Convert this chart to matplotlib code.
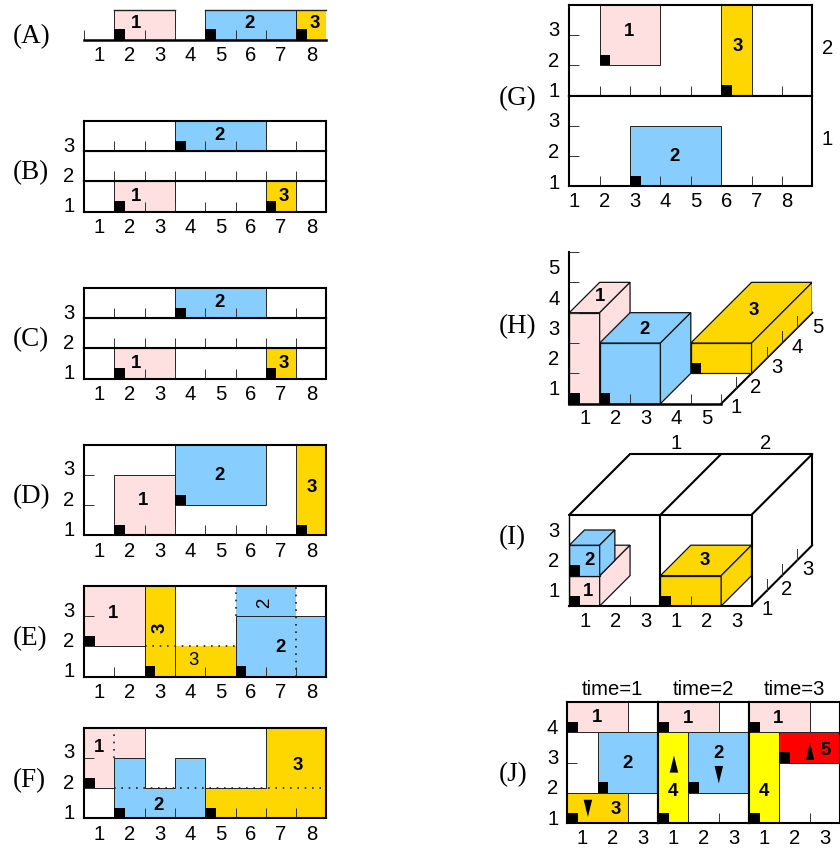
import matplotlib
matplotlib.use("Agg")
import matplotlib.pyplot as plt
from matplotlib.patches import Rectangle, Polygon

W, H = 840, 848
DPI = 100
CELL_LABELS_8 = ["1", "2", "3", "4", "5", "6", "7", "8"]
LAB = {1: "#FFE0E0", 2: "#87CEFF", 3: "#FFD700", 4: "#FFFF00", 5: "#FF0000"}

# --- box layouts: (item, x, width, y, height) in grid cells
panel_a = [(1, 1, 2, 0, 1), (2, 4, 3, 0, 1), (3, 7, 1, 0, 1)]
panel_a_text = [(1, 1.71, .53), (2, 5.47, .53), (3, 7.62, .53)]
rows_bc = {0: [(1, 1, 2, 0, 1), (3, 6, 1, 0, 1)], 1: [], 2: [(2, 3, 3, 0, 1)]}
rows_bc_text = {0: [(1, 1.71, .5), (3, 6.6, .5)], 1: [], 2: [(2, 4.48, .52)]}
panel_d = [(1, 1, 2, 0, 2), (2, 3, 3, 1, 2), (3, 7, 1, 0, 3)]
panel_d_text = [(1, 1.96, 1.14), (2, 4.48, 1.99), (3, 7.53, 1.59)]

panel_e_shapes = [
    (1, [(0, 1), (2, 1), (2, 3), (0, 3)]),
    (2, [(5, 0), (8, 0), (8, 2), (5, 2)]),
]
panel_e_open = [(2, 5, 2, 2, 1), (3, 2, 1, 0, 3), (3, 3, 2, 0, 1)]
panel_e_solid = [((2, 2), (0, 3)), ((3, 3), (0, 3)), ((5, 5), (0, 1))]
panel_e_dotted = [((2, 5), (1, 1)), ((7, 7), (0, 3)), ((5, 5), (2, 3))]
panel_e_marks = [(0, 1), (2, 0), (5, 0)]
panel_e_text = [("1", .945, 2.09, 0, "bold"), ("3", 2.5, 1.63, 90, "bold"), ("3", 3.6, .53, 0, "normal"),
                ("2", 5.95, 2.44, 90, "normal"), ("2", 6.48, .97, 0, "bold")]

panel_f_shapes = [
    (1, [(0, 1), (1, 1), (1, 2), (2, 2), (2, 3), (0, 3)]),
    (2, [(1, 0), (4, 0), (4, 2), (3, 2), (3, 1), (2, 1), (2, 2), (1, 2)]),
    (3, [(4, 0), (8, 0), (8, 3), (6, 3), (6, 1), (4, 1)]),
]
panel_f_dotted = [((1, 8), (1, 1)), ((1, 1), (2, 3))]
panel_f_marks = [(0, 1), (1, 0), (4, 0)]
panel_f_text = [("1", .51, 2.36), ("2", 2.47, .44), ("3", 7.04, 1.75)]

panel_g_upper = [(1, 1, 2, 1, 2), (3, 5, 1, 0, 3)]
panel_g_lower = [(2, 2, 3, 0, 2)]
panel_g_upper_text = [(1, 1.95, 2.13), (3, 5.54, 1.62)]
panel_g_lower_text = [(2, 3.48, 1.0)]

# --- oblique panels: (item, x0, x1, y0, y1, d0, d1)
panel_h = [(3, 3, 5, 0, 1, 2, 6), (1, 0, 1, 0, 3, 0, 2), (2, 1, 3, 0, 2, 0, 2)]
panel_h_text = [(1, 1.01, 3.53), (2, 2.49, 2.46), (3, 6.07, 3.07)]
panel_h_marks = [(0, 0), (1, 0), (4, 1)]
panel_h_depth_labels = [("1", 5.48, -.12), ("2", 6.15, .53), ("3", 6.84, 1.2), ("4", 7.5, 1.86), ("5", 8.18, 2.52)]
panel_i = [(1, 0, 1, 0, 1, 0, 2), (2, 0, 1, 1, 2, 0, 1), (3, 3, 5, 0, 1, 0, 2)]
panel_i_text = [(1, .63, .49), (2, .68, 1.49), (3, 4.47, 1.49)]
panel_i_marks = [(0, 0), (0, 1), (3, 0)]
panel_i_depth_labels = [("1", 6.5, -.11), ("2", 7.16, .55), ("3", 7.85, 1.21)]
panel_i_top_labels = [("1", 3.52, 5.34), ("2", 6.45, 5.34)]

# --- time panels
time_titles = ["time=1", "time=2", "time=3"]
time_boxes = [
    [(1, 0, 2, 3, 1), (2, 1, 2, 1, 2), (3, 0, 2, 0, 1)],
    [(1, 0, 2, 3, 1), (4, 0, 1, 0, 3), (2, 1, 2, 1, 2)],
    [(1, 0, 2, 3, 1), (4, 0, 1, 0, 3), (5, 1, 2, 2, 1)],
]
time_text = [
    [(1, .97, 3.5), (2, 1.98, 1.96), (3, 1.59, .46)],
    [(1, .97, 3.47), (4, .48, 1.03), (2, 1.99, 2.3)],
    [(1, .95, 3.47), (4, .49, 1.03), (5, 2.52, 2.41)],
]
time_arrows = [
    [(.68, .77, .2)],
    [(.52, 1.67, 2.24), (2.0, 1.89, 1.31)],
    [(2.01, 2.09, 2.66)],
]

SANS = "Liberation Sans"
SERIF = "Liberation Serif"
plt.rcParams["font.family"] = SANS
FS_TICK = 14.6
FS_BOX = 13.4
LW_FRAME = 1.5
LW_EDGE = 0.7
EDGE = "#222222"
TICK_CLR = "#333333"
TICK_LEN = 7.2
MW, MH = 0.35, 0.345

fig = plt.figure(figsize=(W / DPI, H / DPI), dpi=DPI)
fig.patch.set_facecolor("white")


def ax_px(x0, ytop, x1, ybot):
    return fig.add_axes([x0 / W, 1 - ybot / H, (x1 - x0) / W, (ybot - ytop) / H])


def style(ax, xlim, ylim, xlabels=None, xlabel_pos=None, ylabels=None, ylabel_pos=None,
          xticks=(), yticks=(), lw=LW_FRAME, ypad=7.0, xpad=4.5, below=False):
    ax.set_xlim(*xlim)
    ax.set_ylim(*ylim)
    ax.set_xticks(list(xticks), labels=[])
    ax.set_yticks(list(yticks), labels=[])
    ax.set_xticks(xlabel_pos if xlabels else [], labels=xlabels if xlabels else [], minor=True)
    ax.set_yticks(ylabel_pos if ylabels else [], labels=ylabels if ylabels else [], minor=True)
    ax.tick_params(which="major", direction="in", length=TICK_LEN, width=0.7, color=TICK_CLR)
    ax.tick_params(axis="x", which="minor", length=0, pad=xpad, labelsize=FS_TICK)
    ax.tick_params(axis="y", which="minor", length=0, pad=ypad, labelsize=FS_TICK)
    ax.set_axisbelow(below)
    for s in ax.spines.values():
        s.set_linewidth(lw)
        s.set_zorder(5)


def rects(ax, boxes, marks=True, mw=MW, mh=MH):
    for item, x, w, y, h in boxes:
        ax.add_patch(Rectangle((x, y), w, h, fc=LAB[item], ec=EDGE, lw=LW_EDGE, zorder=1))
        if marks:
            mark(ax, x, y, mw, mh)


def mark(ax, x, y, mw=MW, mh=MH):
    ax.add_patch(Rectangle((x, y), mw, mh, fc="black", ec="none", zorder=3, clip_on=False))


def box_text(ax, items):
    for item, x, y in items:
        ax.text(x, y, str(item), ha="center", va="center", fontsize=FS_BOX, fontweight="bold", zorder=4)


def dotted(ax, segs):
    for xs, ys in segs:
        ax.plot(xs, ys, color="#222222", lw=1.2, ls=(0, (1, 3.4)), zorder=2.2, clip_on=False)


def panel_tag(x, y, s):
    fig.text(x / W, 1 - y / H, s, family=SERIF, fontsize=19.5, ha="left", va="center")


CENTERS = [i + .5 for i in range(8)]
BOUNDS = list(range(1, 8))
LEFT = 84.0
RIGHT = 326.5

# (A)
ax = ax_px(LEFT, 9.5, RIGHT, 39.5)
style(ax, (0, 8), (0, 1), CELL_LABELS_8, CENTERS, xticks=[0] + BOUNDS)
for k in ("top", "right", "left"):
    ax.spines[k].set_visible(False)
ax.spines["bottom"].set_linewidth(1.8)
ax.xaxis.get_major_ticks()[0].tick1line.set_clip_on(False)
rects(ax, panel_a)
for x0, x1 in ((1, 3), (4, 8)):
    ax.plot([x0, x1], [1, 1], color=EDGE, lw=1.0, zorder=2, clip_on=False)
box_text(ax, panel_a_text)

# (B), (C)
for top in (121, 288):
    for r, name in enumerate(["1", "2", "3"]):
        ybot = top + 30.2 * (3 - r)
        ytop = ybot - 30.2
        ax = ax_px(LEFT, ytop, RIGHT, ybot)
        style(ax, (0, 8), (0, 1), CELL_LABELS_8 if r == 0 else None, CENTERS,
              [name], [.233], xticks=BOUNDS)
        rects(ax, rows_bc[r])
        box_text(ax, rows_bc_text[r])

# (D)
ax = ax_px(LEFT, 444.7, RIGHT, 535.3)
style(ax, (0, 8), (0, 3), CELL_LABELS_8, CENTERS, ["1", "2", "3"], [.233, 1.233, 2.233],
      xticks=BOUNDS, yticks=[1, 2])
rects(ax, panel_d)
box_text(ax, panel_d_text)


def shaped(ax, shapes, solid, dots, marks, ):
    for item, verts in shapes:
        ax.add_patch(Polygon(verts, closed=True, fc=LAB[item], ec=EDGE, lw=LW_EDGE, zorder=1))
    for xs, ys in solid:
        ax.plot(xs, ys, color=EDGE, lw=LW_EDGE, zorder=2)
    dotted(ax, dots)
    for x, y in marks:
        mark(ax, x, y)


# (E)
ax = ax_px(LEFT, 586.0, RIGHT, 676.7)
style(ax, (0, 8), (0, 3), CELL_LABELS_8, CENTERS, ["1", "2", "3"], [.233, 1.233, 2.233],
      xticks=BOUNDS, yticks=[1, 2])
for item, x, w, y, h in panel_e_open:
    ax.add_patch(Rectangle((x, y), w, h, fc=LAB[item], ec="none", zorder=0.9))
shaped(ax, panel_e_shapes, panel_e_solid, panel_e_dotted, panel_e_marks)
for s, x, y, rot, wt in panel_e_text:
    ax.text(x, y, s, ha="center", va="center", rotation=rot, fontsize=FS_BOX, fontweight=wt, zorder=4)

# (F)
ax = ax_px(LEFT, 727.7, RIGHT, 818.3)
style(ax, (0, 8), (0, 3), CELL_LABELS_8, CENTERS, ["1", "2", "3"], [.233, 1.233, 2.233],
      xticks=BOUNDS, yticks=[1, 2])
shaped(ax, panel_f_shapes, [], panel_f_dotted, panel_f_marks)
box_text(ax, panel_f_text)

# (G)
GL, GR = 569.3, 812.3
ax = ax_px(GL, 4.7, GR, 95.7)
style(ax, (0, 8), (0, 3), None, None, ["1", "2", "3"], [.19, 1.2, 2.2], xticks=BOUNDS, yticks=[1, 2])
rects(ax, panel_g_upper)
box_text(ax, panel_g_upper_text)
ax.text(8.5, 1.55, "2", fontsize=FS_TICK, ha="center", va="center", clip_on=False)
ax = ax_px(GL, 95.7, GR, 186.2)
style(ax, (0, 8), (0, 3), CELL_LABELS_8, [i + .165 for i in range(8)], ["1", "2", "3"], [.17, 1.2, 2.2],
      xticks=BOUNDS, yticks=[1, 2])
rects(ax, panel_g_lower)
box_text(ax, panel_g_lower_text)
ax.text(8.5, 1.55, "1", fontsize=FS_TICK, ha="center", va="center", clip_on=False)


def project(x, y, d):
    return x + d * .5, y + d * .5


def draw_box(ax, item, x0, x1, y0, y1, d0, d1):
    c = LAB[item]
    kw = dict(closed=True, fc=c, ec="#111111", lw=0.9, zorder=2)
    ax.add_patch(Polygon([project(x0, y0, d0), project(x1, y0, d0), project(x1, y1, d0), project(x0, y1, d0)], **kw))
    ax.add_patch(Polygon([project(x0, y1, d0), project(x1, y1, d0), project(x1, y1, d1), project(x0, y1, d1)], **kw))
    ax.add_patch(Polygon([project(x1, y0, d0), project(x1, y0, d1), project(x1, y1, d1), project(x1, y1, d0)], **kw))


def depth_ticks(ax, x_end, ds):
    for d in ds:
        X, Y = project(x_end, 0, d)
        ax.plot([X, X], [Y, Y + .38], color=TICK_CLR, lw=0.7, zorder=6, clip_on=False)


def plain_text(ax, items):
    for s, x, y in items:
        ax.text(x, y, s, fontsize=FS_TICK, ha="center", va="center", clip_on=False)


# (H)
ax = ax_px(569.3, 252.0, 812.3, 403.7)
style(ax, (0, 8), (0, 5), ["1", "2", "3", "4", "5"], [.52, 1.52, 2.52, 3.52, 4.52],
      ["1", "2", "3", "4", "5"], [.54, 1.53, 2.52, 3.5, 4.52], xticks=[2, 4, 5], yticks=[1, 2, 3, 4, 5], xpad=4)
ax.patch.set_alpha(0)
ax.spines["top"].set_visible(False)
ax.spines["right"].set_visible(False)
ax.spines["bottom"].set_bounds(0, 5)
ax.spines["bottom"].set_linewidth(1.8)
for t in ax.yaxis.get_major_ticks() + ax.xaxis.get_major_ticks():
    t.tick1line.set_zorder(6)
ax.plot([project(5, 0, 0)[0], project(5, 0, 6)[0]], [project(5, 0, 0)[1], project(5, 0, 6)[1]],
        color="black", lw=1.5, zorder=1.5, clip_on=False)
for b in panel_h:
    draw_box(ax, *b)
depth_ticks(ax, 5, [1, 3, 4, 5])
for x, y in panel_h_marks:
    ax.add_patch(Rectangle((x, y), MW, MH, fc="black", ec="none", zorder=7))
for item, x, y in panel_h_text:
    ax.text(x, y, str(item), ha="center", va="center", fontsize=FS_BOX, fontweight="bold", zorder=8)
plain_text(ax, panel_h_depth_labels)

# (I)
ax = ax_px(569.3, 454.0, 812.3, 606.0)
style(ax, (0, 8), (0, 5), ["1", "2", "3", "1", "2", "3"], [.52, 1.52, 2.52, 3.52, 4.52, 5.52],
      ["1", "2", "3"], [.55, 1.54, 2.53], xticks=[2, 4], xpad=4)
ax.patch.set_alpha(0)
for k in ("top", "right"):
    ax.spines[k].set_visible(False)
ax.spines["bottom"].set_bounds(0, 6)
ax.spines["left"].set_bounds(0, 3)
ax.spines["left"].set_linewidth(1.0)
for t in ax.xaxis.get_major_ticks():
    t.tick1line.set_zorder(6)
for b in panel_i:
    draw_box(ax, *b)
frame_kw = dict(color="black", lw=LW_FRAME, zorder=5, clip_on=False, solid_capstyle="round")
for xs, ds, ys in [
    ((0, 6), (0, 0), (3, 3)),
    ((3, 3), (0, 0), (0, 3)),
    ((6, 6), (0, 0), (0, 3)),
    ((0, 0), (0, 4), (3, 3)),
    ((3, 3), (0, 4), (3, 3)),
    ((6, 6), (0, 4), (3, 3)),
    ((0, 6), (4, 4), (3, 3)),
    ((6, 6), (4, 4), (0, 3)),
    ((6, 6), (0, 4), (0, 0)),
]:
    p0 = project(xs[0], ys[0], ds[0])
    p1 = project(xs[1], ys[1], ds[1])
    ax.plot([p0[0], p1[0]], [p0[1], p1[1]], **frame_kw)
depth_ticks(ax, 6, [1, 2, 3])
for x, y in panel_i_marks:
    ax.add_patch(Rectangle((x, y), MW, MH, fc="black", ec="none", zorder=7))
for item, x, y in panel_i_text:
    ax.text(x, y, str(item), ha="center", va="center", fontsize=FS_BOX, fontweight="bold", zorder=8)
plain_text(ax, panel_i_depth_labels)
plain_text(ax, panel_i_top_labels)

# (J)
JL = 567.3
JW = 90.9
for t in range(3):
    ax = ax_px(JL + t * JW, 702.3, JL + (t + 1) * JW, 823.0)
    style(ax, (0, 3), (0, 4), ["1", "2", "3"], [.5, 1.5, 2.5],
          ["1", "2", "3", "4"] if t == 0 else None, [.19, 1.2, 2.2, 3.2],
          xticks=[1, 2], yticks=[1, 2, 3], below=True, ypad=6.5)
    ax.set_title(time_titles[t], fontsize=FS_TICK, pad=5)
    for item, x, w, y, h in time_boxes[t]:
        ax.add_patch(Rectangle((x, y), w, h, fc=LAB[item], ec=EDGE, lw=LW_EDGE, zorder=3))
        ax.add_patch(Rectangle((x, y), MW, MH, fc="black", ec="none", zorder=3.5))
    box_text(ax, [(i, x, y) for i, x, y in time_text[t]])
    for cx, base, tip in time_arrows[t]:
        ax.add_patch(Polygon([(cx - .14, base), (cx + .14, base), (cx, tip)], closed=True,
                             fc="black", ec="none", zorder=3.6))
    for z in ax.texts:
        z.set_zorder(6)

for tag in [(13, 37, "(A)"), (13, 173, "(B)"), (13, 340, "(C)"), (13, 497, "(D)"), (13, 639, "(E)"), (13, 781, "(F)"),
            (499, 99, "(G)"), (499, 327, "(H)"), (499, 538, "(I)"), (499, 775, "(J)")]:
    panel_tag(*tag)

fig.savefig("out.png", dpi=DPI, facecolor="white")
